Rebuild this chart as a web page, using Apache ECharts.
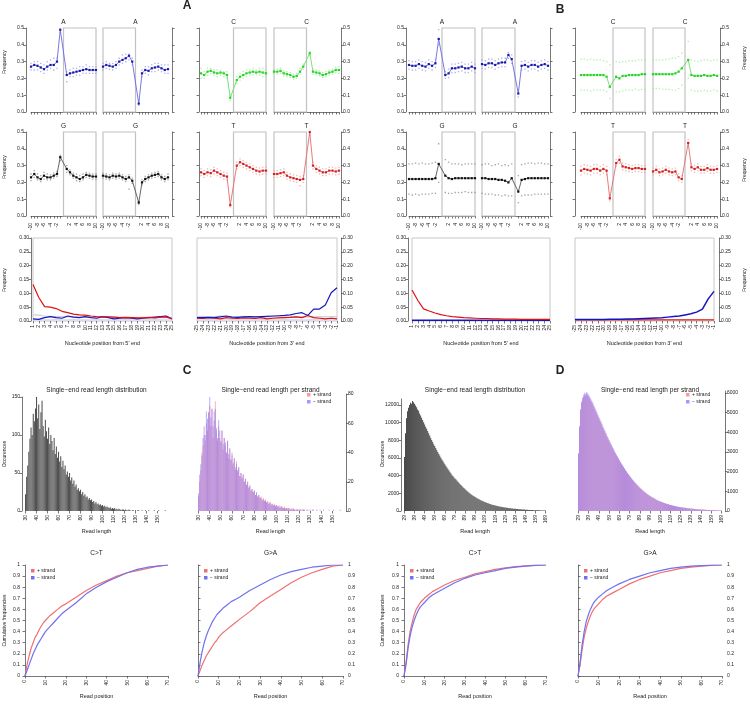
<!DOCTYPE html>
<html><head><meta charset="utf-8">
<script src="https://cdn.jsdelivr.net/npm/echarts/dist/echarts.min.js"></script>
<style>html,body{margin:0;padding:0;background:#fff}#c{width:750px;height:706px}</style>
</head><body><div id="c"></div><script>
// ---------------- DATA ----------------
const POS21 = ['-10','-9','-8','-7','-6','-5','-4','-3','-2','-1','0','1','2','3','4','5','6','7','8','9','10'];
const POS5 = ['1','2','3','4','5','6','7','8','9','10','11','12','13','14','15','16','17','18','19','20','21','22','23','24','25'];
const POS3 = ['-25','-24','-23','-22','-21','-20','-19','-18','-17','-16','-15','-14','-13','-12','-11','-10','-9','-8','-7','-6','-5','-4','-3','-2','-1'];

const aA_m5 = [0.27,0.28,0.275,0.265,0.255,0.27,0.28,0.28,0.30,0.49, 0.22,0.23,0.235,0.24,0.245,0.25,0.255,0.25,0.25,0.25];
const aA_u5 = [0.29,0.30,0.30,0.29,0.28,0.30,0.31,0.32,0.32,0.51, 0.24,0.25,0.26,0.26,0.27,0.27,0.28,0.27,0.27,0.27];
const aA_l5 = [0.25,0.25,0.25,0.24,0.23,0.25,0.26,0.25,0.26,0.47, 0.18,0.21,0.21,0.22,0.22,0.23,0.23,0.23,0.23,0.23];
const aA_m3 = [0.27,0.28,0.275,0.27,0.28,0.30,0.31,0.32,0.335,0.30, 0.05,0.23,0.25,0.245,0.26,0.265,0.27,0.26,0.25,0.255];
const aA_u3 = [0.29,0.30,0.29,0.29,0.30,0.32,0.34,0.345,0.345,0.32, 0.07,0.25,0.27,0.27,0.28,0.29,0.29,0.28,0.28,0.28];
const aA_l3 = [0.25,0.26,0.255,0.25,0.26,0.28,0.29,0.30,0.31,0.28, 0.04,0.21,0.23,0.22,0.24,0.24,0.25,0.24,0.23,0.23];

const aC_m5 = [0.23,0.22,0.24,0.245,0.235,0.23,0.235,0.23,0.22,0.085, 0.19,0.21,0.22,0.23,0.235,0.24,0.235,0.24,0.235,0.23];
const aC_u5 = [0.26,0.24,0.26,0.26,0.25,0.25,0.25,0.24,0.24,0.10, 0.21,0.23,0.24,0.25,0.25,0.26,0.25,0.26,0.26,0.25];
const aC_l5 = [0.20,0.20,0.22,0.23,0.22,0.21,0.22,0.21,0.20,0.07, 0.17,0.19,0.20,0.21,0.22,0.22,0.22,0.22,0.21,0.21];
const aC_m3 = [0.24,0.24,0.245,0.23,0.225,0.22,0.21,0.215,0.24,0.27, 0.35,0.24,0.235,0.23,0.22,0.225,0.235,0.24,0.25,0.25];
const aC_u3 = [0.25,0.255,0.26,0.245,0.24,0.235,0.225,0.23,0.26,0.285, 0.36,0.255,0.25,0.245,0.235,0.24,0.25,0.255,0.265,0.27];
const aC_l3 = [0.225,0.225,0.23,0.215,0.21,0.205,0.195,0.20,0.225,0.255, 0.335,0.225,0.22,0.215,0.205,0.21,0.22,0.225,0.235,0.23];

const aG_m5 = [0.23,0.25,0.23,0.22,0.24,0.23,0.23,0.24,0.25,0.35, 0.28,0.26,0.24,0.23,0.22,0.23,0.245,0.24,0.235,0.235];
const aG_u5 = [0.25,0.27,0.25,0.24,0.26,0.25,0.245,0.255,0.265,0.36, 0.30,0.275,0.255,0.25,0.24,0.25,0.26,0.255,0.25,0.25];
const aG_l5 = [0.21,0.23,0.215,0.205,0.22,0.215,0.215,0.225,0.235,0.33, 0.26,0.245,0.225,0.21,0.205,0.215,0.23,0.225,0.22,0.22];
const aG_m3 = [0.24,0.235,0.23,0.24,0.235,0.24,0.23,0.22,0.23,0.21, 0.08,0.20,0.22,0.23,0.24,0.245,0.25,0.23,0.22,0.23];
const aG_u3 = [0.255,0.25,0.245,0.255,0.25,0.255,0.245,0.235,0.245,0.225, 0.09,0.215,0.235,0.245,0.255,0.26,0.265,0.245,0.235,0.25];
const aG_l3 = [0.225,0.22,0.215,0.225,0.22,0.225,0.215,0.205,0.16,0.195, 0.07,0.185,0.205,0.215,0.225,0.23,0.235,0.215,0.205,0.215];

const aT_m5 = [0.26,0.25,0.26,0.255,0.27,0.26,0.25,0.24,0.235,0.065, 0.30,0.32,0.31,0.30,0.29,0.28,0.27,0.265,0.27,0.27];
const aT_u5 = [0.28,0.27,0.28,0.275,0.29,0.28,0.27,0.26,0.255,0.075, 0.32,0.34,0.33,0.32,0.31,0.30,0.29,0.285,0.29,0.29];
const aT_l5 = [0.24,0.23,0.24,0.235,0.25,0.24,0.23,0.22,0.215,0.055, 0.28,0.30,0.29,0.28,0.27,0.26,0.25,0.245,0.25,0.25];
const aT_m3 = [0.25,0.25,0.255,0.26,0.24,0.23,0.225,0.22,0.215,0.22, 0.50,0.30,0.28,0.27,0.26,0.26,0.27,0.27,0.265,0.27];
const aT_u3 = [0.27,0.27,0.275,0.28,0.26,0.25,0.245,0.24,0.235,0.24, 0.51,0.32,0.30,0.29,0.28,0.28,0.29,0.29,0.285,0.29];
const aT_l3 = [0.23,0.23,0.235,0.24,0.22,0.21,0.205,0.20,0.18,0.20, 0.48,0.28,0.26,0.25,0.24,0.24,0.25,0.25,0.245,0.25];

const bA_m5 = [0.28,0.275,0.275,0.285,0.275,0.27,0.285,0.275,0.29,0.435, 0.22,0.23,0.26,0.26,0.265,0.27,0.26,0.26,0.27,0.26];
const bA_u5 = [0.305,0.30,0.30,0.31,0.30,0.295,0.31,0.30,0.315,0.49, 0.24,0.255,0.285,0.285,0.29,0.295,0.285,0.285,0.295,0.285];
const bA_l5 = [0.255,0.25,0.25,0.26,0.25,0.245,0.26,0.25,0.265,0.40, 0.20,0.205,0.235,0.235,0.24,0.245,0.235,0.235,0.245,0.235];
const bA_m3 = [0.285,0.28,0.29,0.29,0.28,0.29,0.295,0.295,0.34,0.315, 0.11,0.275,0.28,0.27,0.28,0.28,0.27,0.28,0.285,0.275];
const bA_u3 = [0.31,0.305,0.315,0.315,0.305,0.315,0.32,0.32,0.355,0.34, 0.13,0.30,0.305,0.295,0.305,0.305,0.295,0.305,0.31,0.30];
const bA_l3 = [0.26,0.255,0.265,0.265,0.255,0.265,0.27,0.27,0.32,0.29, 0.09,0.25,0.255,0.245,0.255,0.255,0.245,0.255,0.26,0.25];

const bC_m5 = [0.22,0.22,0.22,0.22,0.22,0.22,0.22,0.22,0.21,0.15, 0.21,0.20,0.215,0.215,0.22,0.22,0.22,0.22,0.225,0.225];
const bC_u5 = [0.315,0.315,0.31,0.315,0.31,0.31,0.31,0.305,0.30,0.28, 0.30,0.295,0.30,0.30,0.305,0.305,0.305,0.31,0.31,0.31];
const bC_l5 = [0.13,0.13,0.13,0.125,0.13,0.13,0.13,0.13,0.12,0.08, 0.12,0.12,0.125,0.13,0.13,0.13,0.135,0.13,0.135,0.135];
const bC_m3 = [0.225,0.225,0.225,0.225,0.225,0.225,0.225,0.23,0.24,0.26, 0.31,0.22,0.215,0.215,0.215,0.22,0.215,0.215,0.22,0.215];
const bC_u3 = [0.31,0.31,0.31,0.31,0.315,0.315,0.32,0.32,0.33,0.35, 0.42,0.31,0.305,0.30,0.305,0.31,0.31,0.305,0.31,0.31];
const bC_l3 = [0.14,0.14,0.14,0.135,0.135,0.135,0.13,0.13,0.14,0.16, 0.20,0.13,0.125,0.125,0.125,0.13,0.125,0.125,0.13,0.125];

const bG_m5 = [0.22,0.22,0.22,0.22,0.22,0.22,0.22,0.22,0.225,0.31, 0.24,0.225,0.22,0.225,0.225,0.225,0.225,0.225,0.225,0.225];
const bG_u5 = [0.31,0.31,0.315,0.31,0.315,0.31,0.31,0.315,0.32,0.43, 0.335,0.32,0.31,0.31,0.31,0.305,0.31,0.31,0.31,0.31];
const bG_l5 = [0.13,0.125,0.13,0.125,0.13,0.13,0.13,0.135,0.135,0.20, 0.14,0.135,0.135,0.14,0.14,0.14,0.145,0.14,0.14,0.14];
const bG_m3 = [0.225,0.225,0.22,0.22,0.22,0.215,0.215,0.21,0.20,0.225, 0.145,0.215,0.22,0.225,0.225,0.225,0.225,0.225,0.225,0.225];
const bG_u3 = [0.305,0.31,0.31,0.30,0.305,0.31,0.30,0.305,0.30,0.31, 0.24,0.305,0.31,0.315,0.315,0.31,0.315,0.315,0.31,0.31];
const bG_l3 = [0.135,0.13,0.13,0.13,0.125,0.125,0.12,0.125,0.12,0.12, 0.08,0.12,0.125,0.125,0.125,0.13,0.13,0.13,0.13,0.13];

const bT_m5 = [0.27,0.28,0.275,0.27,0.28,0.28,0.27,0.28,0.27,0.105, 0.315,0.335,0.295,0.29,0.285,0.28,0.285,0.285,0.28,0.28];
const bT_u5 = [0.295,0.305,0.30,0.295,0.305,0.305,0.295,0.305,0.295,0.12, 0.335,0.355,0.315,0.31,0.305,0.30,0.305,0.305,0.30,0.30];
const bT_l5 = [0.245,0.255,0.25,0.245,0.255,0.255,0.245,0.255,0.245,0.09, 0.295,0.315,0.275,0.27,0.265,0.26,0.265,0.265,0.26,0.26];
const bT_m3 = [0.265,0.275,0.26,0.265,0.275,0.265,0.26,0.265,0.23,0.22, 0.435,0.29,0.28,0.29,0.275,0.275,0.285,0.275,0.275,0.28];
const bT_u3 = [0.285,0.295,0.28,0.285,0.295,0.285,0.28,0.285,0.25,0.24, 0.455,0.31,0.30,0.31,0.295,0.295,0.305,0.295,0.295,0.30];
const bT_l3 = [0.245,0.255,0.24,0.245,0.255,0.245,0.24,0.245,0.21,0.20, 0.415,0.27,0.26,0.27,0.255,0.255,0.265,0.255,0.255,0.26];

const a5_CT = [0.132,0.085,0.052,0.05,0.045,0.035,0.03,0.025,0.022,0.021,0.018,0.016,0.015,0.015,0.014,0.012,0.013,0.012,0.011,0.011,0.013,0.011,0.014,0.015,0.007];
const a5_GA = [0.008,0.006,0.012,0.016,0.012,0.01,0.018,0.014,0.012,0.016,0.012,0.01,0.016,0.012,0.008,0.01,0.012,0.01,0.008,0.01,0.012,0.014,0.016,0.018,0.008];
const a5_OT = [0.022,0.021,0.018,0.017,0.016,0.016,0.015,0.015,0.014,0.015,0.014,0.013,0.014,0.015,0.014,0.013,0.012,0.013,0.012,0.013,0.012,0.011,0.012,0.013,0.01];
const a5_OP = [0.004,0.005,0.004,0.004,0.005,0.004,0.004,0.005,0.004,0.004,0.004,0.005,0.004,0.004,0.004,0.004,0.005,0.004,0.004,0.004,0.004,0.005,0.004,0.004,0.004];
const a3_GA = [0.012,0.012,0.013,0.012,0.015,0.018,0.014,0.013,0.015,0.016,0.015,0.016,0.017,0.018,0.019,0.02,0.022,0.027,0.03,0.02,0.043,0.043,0.058,0.102,0.12];
const a3_CT = [0.01,0.009,0.012,0.01,0.008,0.012,0.01,0.009,0.011,0.01,0.009,0.012,0.008,0.01,0.011,0.012,0.013,0.015,0.012,0.02,0.012,0.01,0.008,0.01,0.008];
const a3_OT = [0.016,0.017,0.015,0.016,0.018,0.016,0.015,0.016,0.017,0.015,0.016,0.014,0.015,0.016,0.015,0.014,0.015,0.016,0.015,0.014,0.015,0.016,0.015,0.016,0.015];
const a3_OP = [0.004,0.004,0.005,0.004,0.004,0.004,0.005,0.004,0.004,0.004,0.004,0.005,0.004,0.004,0.004,0.005,0.004,0.004,0.004,0.004,0.005,0.004,0.004,0.004,0.004];
const b5_CT = [0.112,0.075,0.044,0.036,0.029,0.023,0.019,0.016,0.014,0.012,0.011,0.01,0.009,0.009,0.008,0.008,0.007,0.007,0.007,0.006,0.006,0.006,0.006,0.006,0.006];
const b5_GA = [0.003,0.003,0.003,0.003,0.003,0.003,0.003,0.003,0.003,0.003,0.003,0.003,0.003,0.003,0.003,0.003,0.003,0.003,0.003,0.003,0.003,0.003,0.003,0.003,0.003];
const b3_GA = [0.005,0.005,0.005,0.005,0.005,0.005,0.006,0.006,0.006,0.007,0.007,0.008,0.009,0.01,0.011,0.012,0.014,0.016,0.018,0.022,0.026,0.032,0.043,0.08,0.107];
const b3_CT = [0.004,0.004,0.004,0.004,0.004,0.004,0.004,0.004,0.004,0.004,0.004,0.004,0.004,0.004,0.004,0.004,0.004,0.004,0.004,0.004,0.004,0.004,0.004,0.004,0.004];

const C_LEN_START = 30, D_LEN_START = 29;
const C_YTICKS = [0,50,100,150], C_SYTICKS = [0,20,40,60,80];
const D_YTICKS = [0,2000,4000,6000,8000,10000,12000], D_SYTICKS = [0,1000,2000,3000,4000,5000,6000];
const C_total = [22,45,60,78,95,110,100,128,118,135, 150,122,140,108,130,145,112,98,120,105, 95,110,88,100,92,80,96,75,85,70,
 78,65,72,58,66,55,60,48,52,45, 50,40,44,36,40,32,35,28,30,26, 28,22,25,20,22,18,19,15,17,14, 15,12,13,10,12,9,10,8,9,7,
 8,6,7,5,6,5,4,5,3,4, 3,4,2,3,2,3,2,1,2,2, 1,2,1,1,2,1,0,1,1,0, 1,0,1,1,0,0,1,0,0,1, 0,0,1,0,0,0,0,1,0,0, 0,1,0,0,0,0,0,1,0,0];
const C_plus = [10,20,28,40,45,52,48,60,55,68, 72,58,70,50,62,75,55,48,58,50, 48,55,42,50,45,40,48,36,42,35,
 38,32,36,28,34,27,30,24,26,22, 25,20,22,18,20,16,18,14,15,13, 14,11,12,10,11,9,10,8,9,7, 8,6,7,5,6,5,5,4,5,4,
 4,3,4,3,3,2,2,3,2,2, 2,2,1,2,1,1,1,1,1,1, 1,1,0,1,1,0,0,1,0,0, 0,0,1,0,0,0,0,0,0,1, 0,0,0,0,0,0,0,1,0,0, 0,0,0,0,0,0,0,0,0,0];
const C_minus = [12,25,32,38,50,58,52,68,63,67, 78,64,70,58,68,70,57,50,62,55, 47,55,46,50,47,40,48,39,43,35,
 40,33,36,30,32,28,30,24,26,23, 25,20,22,18,20,16,17,14,15,13, 14,11,13,10,11,9,9,7,8,7, 7,6,6,5,6,4,5,4,4,3,
 4,3,3,2,3,3,2,2,1,2, 1,2,1,1,1,2,1,0,1,1, 0,1,1,0,1,1,0,0,1,0, 1,0,0,1,0,0,1,0,0,0, 0,0,1,0,0,0,0,0,0,0, 0,1,0,0,0,0,0,1,0,0];
const D_total = [6100,8800,10500,11300,11700,12000,12250,12150,12450,12300,12150,
 11950,11750,11500,11350,11050,10800,10550,10300,10050,9800, 9550,9300,9050,8800,8550,8300,8050,7800,7570,7350,
 7130,6900,6690,6480,6270,6070,5870,5680,5490,5300, 5120,4940,4770,4600,4430,4270,4110,3960,3810,3670,
 3600,3460,3320,3190,3060,2940,2820,2700,2590,2480, 2370,2270,2170,2080,1990,1900,1820,1740,1660,1590,
 1520,1450,1380,1320,1260,1200,1150,1100,1050,1000, 950,910,870,830,790,750,720,690,660,630,
 600,570,545,520,495,470,450,430,410,390, 370,355,340,325,310,295,280,268,255,243,
 232,221,210,200,190,181,172,164,156,148, 141,134,127,121,115,109,104,99,94,89, 85,80,76,72,68,65,61,58,55,52];
const D_plus = [2900,4250,5100,5480,5680,5800,5890,5850,5950,5880,5800,
 5710,5620,5500,5430,5290,5170,5050,4930,4810,4700, 4580,4460,4340,4220,4100,3990,3870,3760,3650,3540,
 3440,3330,3230,3130,3030,2930,2830,2740,2650,2560, 2470,2380,2300,2220,2140,2060,1990,1910,1840,1770,
 1700,1640,1570,1510,1450,1390,1330,1280,1230,1180, 1130,1080,1030,990,950,900,860,820,790,760,
 720,690,660,630,600,570,540,520,500,480, 470,450,430,410,390,370,350,340,320,310,
 290,280,270,250,240,230,220,210,200,190, 180,170,170,160,150,140,140,130,120,120,
 110,110,100,100,90,90,80,80,80,70, 70,70,60,60,60,50,50,50,50,40, 40,40,40,40,30,30,30,30,30,30];
const D_minus = [2950,4320,5180,5570,5770,5910,6010,5960,6050,5990,5910,
 5820,5720,5600,5520,5380,5260,5150,5030,4900,4780, 4670,4550,4430,4300,4180,4070,3950,3830,3720,3610,
 3500,3390,3290,3190,3080,2980,2880,2790,2700,2610, 2520,2430,2350,2260,2180,2100,2020,1950,1880,1810,
 1740,1670,1600,1540,1480,1420,1360,1310,1250,1200, 1150,1100,1050,1000,960,920,880,840,800,770,
 740,710,680,650,620,590,560,540,510,490, 460,440,420,400,380,370,350,340,320,310,
 300,280,270,260,250,230,220,210,200,190, 190,185,170,165,160,155,140,138,135,123,
 122,111,110,100,100,91,92,84,76,78, 71,64,67,61,55,59,54,49,44,49, 45,40,36,32,38,35,31,28,25,22];

const CUM_X = [0,1,2,3,4,5,6,7,8,9,10,12,14,16,18,20,25,30,35,40,45,50,55,60,65,70];
const C_CT_plus  = [0,0.10,0.18,0.25,0.30,0.35,0.38,0.42,0.45,0.48,0.50,0.54,0.57,0.60,0.63,0.65,0.71,0.77,0.82,0.86,0.90,0.93,0.95,0.97,0.99,1];
const C_CT_minus = [0,0.05,0.10,0.15,0.20,0.24,0.28,0.31,0.34,0.37,0.40,0.44,0.48,0.52,0.56,0.59,0.66,0.74,0.80,0.85,0.89,0.93,0.96,0.98,0.99,1];
const C_GA_plus  = [0,0.05,0.10,0.14,0.18,0.21,0.24,0.27,0.30,0.32,0.35,0.39,0.42,0.45,0.48,0.51,0.58,0.66,0.72,0.78,0.84,0.89,0.93,0.96,0.99,1];
const C_GA_minus = [0,0.12,0.22,0.30,0.36,0.41,0.45,0.49,0.52,0.55,0.57,0.61,0.64,0.67,0.69,0.71,0.77,0.82,0.87,0.91,0.94,0.96,0.98,0.99,1,1];
const D_CT_plus  = [0,0.12,0.28,0.40,0.48,0.55,0.60,0.63,0.66,0.68,0.70,0.73,0.76,0.78,0.80,0.82,0.86,0.89,0.92,0.94,0.96,0.975,0.985,0.993,0.998,1];
const D_CT_minus = [0,0.10,0.25,0.36,0.44,0.50,0.55,0.59,0.62,0.64,0.66,0.70,0.73,0.75,0.77,0.79,0.84,0.88,0.91,0.93,0.95,0.97,0.98,0.99,0.997,1];
const D_GA_plus  = [0,0.10,0.24,0.35,0.43,0.49,0.54,0.58,0.61,0.63,0.65,0.69,0.72,0.74,0.76,0.78,0.83,0.87,0.90,0.93,0.95,0.97,0.98,0.99,0.997,1];
const D_GA_minus = [0,0.12,0.28,0.40,0.49,0.55,0.60,0.64,0.67,0.69,0.71,0.74,0.77,0.79,0.81,0.83,0.87,0.90,0.93,0.95,0.97,0.98,0.99,0.995,0.999,1];

// ---------------- BUILD ----------------
const FONT = '"Liberation Sans", Arial, sans-serif';
const AX = '#555';
const grid=[], xAxis=[], yAxis=[], series=[], graphic=[];
const COL = {
  A:{pt:'#1a1aa8', line:'#6a6ae0', ci:'#9a9aee'},
  C:{pt:'#22d622', line:'#66e066', ci:'#99ea99'},
  G:{pt:'#111111', line:'#555555', ci:'#8a8a8a'},
  T:{pt:'#d42020', line:'#e86a6a', ci:'#f0a0a0'}
};
function G(left, top, width, height, border){
  grid.push({left, top, width, height, show: !!border, borderColor: border||'#ccc', borderWidth: 1, backgroundColor:'transparent', containLabel:false, outerBoundsMode:'none'});
  return grid.length-1;
}
function txt(x, y, s, o){
  o = o||{};
  graphic.push({type:'text', x, y, rotation: o.rot||0, silent:true, z:100,
    style:{text:s, font:(o.bold?'bold ':'')+(o.size||5)+'px '+FONT, fill:o.color||'#222',
      align:o.align||'center', verticalAlign:o.va||'middle', textAlign:o.align||'center', textVerticalAlign:o.va||'middle'}});
}
function gap(a){ return a.slice(0,10).concat([null], a.slice(10)); }
const lineSt = {color:AX, width:0.8};

function nuc(left, top, w, h, d, col, end, o){
  const g = G(left, top, w, h);
  xAxis.push({type:'category', gridIndex:g, data:POS21, boundaryGap:false, offset:o.xoff,
    axisLine:{show:true, lineStyle:lineSt},
    axisTick:{show:true, length:2.5, interval:(i,v)=>v!=='0', lineStyle:lineSt},
    axisLabel:{show:!!o.xlab, interval:(i,v)=>v!=='0' && (+v)%2===0, rotate:90, fontSize:5, color:'#222', margin:2, fontFamily:FONT},
    splitLine:{show:false}});
  yAxis.push({type:'value', gridIndex:g, min:0, max:0.5, interval:0.1, position:o.ypos, offset:o.yoff,
    show:o.yshow, axisLine:{show:true, lineStyle:lineSt}, axisTick:{show:true, length:2.5, lineStyle:lineSt},
    axisLabel:{show:!!o.ylab, fontSize:5, color:'#222', margin:2, fontFamily:FONT, formatter:v=>v.toFixed(1)},
    splitLine:{show:false}});
  const box = end===5 ? [[{xAxis:'0', yAxis:0},{xAxis:'10', yAxis:0.5}]] : [[{xAxis:'-10', yAxis:0},{xAxis:'0', yAxis:0.5}]];
  series.push({type:'line', xAxisIndex:g, yAxisIndex:g, data:gap(d[0]), connectNulls:true, symbol:'rect', symbolSize:2.2, showAllSymbol:true,
    itemStyle:{color:col.pt}, lineStyle:{color:col.line, width:0.9}, silent:true, z:4,
    markArea:{silent:true, itemStyle:{color:'rgba(0,0,0,0)', borderColor:'#c2c2c2', borderWidth:1.2}, data:box}});
  [d[1], d[2]].forEach(arr=>series.push({type:'scatter', xAxisIndex:g, yAxisIndex:g, data:gap(arr), symbol:'rect', symbolSize:1.3, itemStyle:{color:col.ci}, silent:true, z:3}));
  return left + w/2;
}
function pair(lefts, top, w, h, nt, d5, d3, o){
  const x1 = nuc(lefts[0], top, w[0], h, d5, COL[nt], 5, {xoff:5, xlab:o.xlab, ypos:'left', yoff:o.yoff[0], yshow:true, ylab:o.ylab[0]});
  const x2 = nuc(lefts[1], top, w[1], h, d3, COL[nt], 3, {xoff:5, xlab:o.xlab, ypos:'right', yoff:o.yoff[1], yshow:true, ylab:o.ylab[1]});
  txt(x1, top-6, nt, {size:6.5}); txt(x2, top-6, nt, {size:6.5});
}
const R1 = 28, R2 = 132, RH = 84;
pair([31,103],R1,[65,65],RH,'A',[aA_m5,aA_u5,aA_l5],[aA_m3,aA_u3,aA_l3],{xlab:false,yoff:[5,4],ylab:[true,false]});
pair([201,274],R1,[65,65],RH,'C',[aC_m5,aC_u5,aC_l5],[aC_m3,aC_u3,aC_l3],{xlab:false,yoff:[2,2],ylab:[false,true]});
pair([31,103],R2,[65,65],RH,'G',[aG_m5,aG_u5,aG_l5],[aG_m3,aG_u3,aG_l3],{xlab:true,yoff:[5,4],ylab:[true,false]});
pair([201,274],R2,[65,65],RH,'T',[aT_m5,aT_u5,aT_l5],[aT_m3,aT_u3,aT_l3],{xlab:true,yoff:[2,2],ylab:[false,true]});
pair([409,482],R1,[66,66],RH,'A',[bA_m5,bA_u5,bA_l5],[bA_m3,bA_u3,bA_l3],{xlab:false,yoff:[3,2],ylab:[true,false]});
pair([581,653],R1,[64,64],RH,'C',[bC_m5,bC_u5,bC_l5],[bC_m3,bC_u3,bC_l3],{xlab:false,yoff:[6,3],ylab:[false,true]});
pair([409,482],R2,[66,66],RH,'G',[bG_m5,bG_u5,bG_l5],[bG_m3,bG_u3,bG_l3],{xlab:true,yoff:[3,2],ylab:[true,false]});
pair([581,653],R2,[64,64],RH,'T',[bT_m5,bT_u5,bT_l5],[bT_m3,bT_u3,bT_l3],{xlab:true,yoff:[6,3],ylab:[false,true]});

function misinc(left, top, w, h, cats, lines, ypos, yoff, label){
  const g = G(left, top, w, h, '#c8c8c8');
  xAxis.push({type:'category', gridIndex:g, data:cats, boundaryGap:false, offset:2,
    axisLine:{show:false}, axisTick:{show:true, length:2.5, interval:0, lineStyle:lineSt},
    axisLabel:{show:true, interval:0, rotate:90, fontSize:5, color:'#222', margin:2, fontFamily:FONT}, splitLine:{show:false}});
  yAxis.push({type:'value', gridIndex:g, min:0, max:0.3, interval:0.05, position:ypos, offset:yoff,
    axisLine:{show:true, lineStyle:lineSt}, axisTick:{show:true, length:2.5, lineStyle:lineSt},
    axisLabel:{show:true, fontSize:5, color:'#222', margin:2, fontFamily:FONT, formatter:v=>v.toFixed(2)}, splitLine:{show:false}});
  lines.forEach(l=>series.push({type:'line', xAxisIndex:g, yAxisIndex:g, data:l[0], symbol:'none', lineStyle:{color:l[1], width:l[2]}, silent:true, z:l[3]||3}));
  txt(left+w/2, 343, label, {size:5.5});
}
const RT = 238, RTH = 83;
misinc(33,RT,139,RTH,POS5,[[a5_OP,'#d8d8f0',1.5,2],[a5_OT,'#cfcfcf',1.2,2],[a5_GA,'#1515c0',1.2,3],[a5_CT,'#e01010',1.2,4]],'left',2,"Nucleotide position from 5' end");
misinc(197,RT,140,RTH,POS3,[[a3_OP,'#d8d8f0',1.5,2],[a3_OT,'#cfcfcf',1.2,2],[a3_CT,'#e01010',1.2,3],[a3_GA,'#1515c0',1.2,4]],'right',4,"Nucleotide position from 3' end");
misinc(412,RT,138,RTH,POS5,[[b5_GA,'#1515c0',1.5,3],[b5_CT,'#e01010',1.2,4]],'left',4,"Nucleotide position from 5' end");
misinc(575,RT,139,RTH,POS3,[[b3_CT,'#e01010',1.2,3],[b3_GA,'#1515c0',1.5,4]],'right',5,"Nucleotide position from 3' end");

[62,167,280].forEach(y=>txt(5,y,'Frequency',{rot:Math.PI/2,size:5}));
[58,170,280].forEach(y=>txt(745,y,'Frequency',{rot:Math.PI/2,size:5}));

const Y0H = 511; // histogram baseline
function range(a,n){ const r=[]; for(let i=0;i<n;i++) r.push(String(a+i)); return r; }
function hist(left, top, w, start, sers, ymax, yticks, ypos, yoff, title, legend){
  const h = Y0H - top;
  const cats = range(start, sers[0][0].length);
  const g = G(left, top, w, h);
  xAxis.push({type:'category', gridIndex:g, data:cats, boundaryGap:true, offset:2,
    axisLine:{show:false}, axisTick:{show:true, length:2.5, alignWithLabel:true, interval:(i,v)=>(+v-start)%10===0, lineStyle:lineSt},
    axisLabel:{show:true, interval:(i,v)=>(+v-start)%10===0, rotate:90, fontSize:5, color:'#222', margin:2, fontFamily:FONT}, splitLine:{show:false}});
  yAxis.push({type:'value', gridIndex:g, min:0, max:ymax, position:ypos, offset:yoff,
    axisLine:{show:true, lineStyle:lineSt}, axisTick:{show:true, length:2.5, lineStyle:lineSt, customValues:yticks},
    axisLabel:{show:true, fontSize:5, color:'#222', margin:2, fontFamily:FONT, customValues:yticks, formatter:v=>String(v)}, splitLine:{show:false}});
  sers.forEach((s,i)=>series.push({type:'bar', name:s[2], xAxisIndex:g, yAxisIndex:g, data:s[0], barCategoryGap:'12%', barGap:'-100%',
    itemStyle:{color:s[1]}, silent:true, z:2+i}));
  txt(left+w/2, 390, title, {size:6.5});
  txt(left+w/2, Y0H+20, 'Read length', {size:5.5});
  if(legend){
    legend.forEach((l,i)=>{
      graphic.push({type:'rect', silent:true, shape:{x:left+w-36, y:393+i*7, width:3.5, height:3.5}, style:{fill:l[1]}});
      txt(left+w-30, 395+i*7, l[0], {size:5, align:'left'});
    });
  }
}
hist(25,397,143,C_LEN_START,[[C_total,'#4a4a4a','total']],150,C_YTICKS,'left',3,'Single\u2212end read length distribution');
hist(198,394,145,C_LEN_START,[[C_plus,'rgba(255,110,110,0.55)','+ strand'],[C_minus,'rgba(120,110,255,0.55)','\u2212 strand']],80,C_SYTICKS,'right',3,'Single\u2212end read length per strand',[['+ strand','rgba(255,110,110,0.7)'],['\u2212 strand','rgba(120,110,255,0.7)']]);
hist(404,399,142,D_LEN_START,[[D_total,'#4a4a4a','total']],12680,D_YTICKS,'left',3,'Single\u2212end read length distribution');
hist(578,391,144,D_LEN_START,[[D_plus,'rgba(255,110,110,0.55)','+ strand'],[D_minus,'rgba(120,110,255,0.55)','\u2212 strand']],6100,D_SYTICKS,'right',3,'Single\u2212end read length per strand',[['+ strand','rgba(255,110,110,0.7)'],['\u2212 strand','rgba(120,110,255,0.7)']]);

function cum(left, top, w, h, plus, minus, ypos, yoff, title){
  const g = G(left, top, w, h);
  xAxis.push({type:'value', gridIndex:g, min:0, max:70, interval:10, offset:2,
    axisLine:{show:true, lineStyle:lineSt}, axisTick:{show:true, length:2.5, lineStyle:lineSt},
    axisLabel:{show:true, rotate:90, fontSize:5, color:'#222', margin:2, fontFamily:FONT}, splitLine:{show:false}});
  yAxis.push({type:'value', gridIndex:g, min:0, max:1, interval:0.1, position:ypos, offset:yoff,
    axisLine:{show:true, lineStyle:lineSt}, axisTick:{show:true, length:2.5, lineStyle:lineSt},
    axisLabel:{show:true, fontSize:5, color:'#222', margin:2, fontFamily:FONT, formatter:v=>(v===0||v===1)?String(v):v.toFixed(1)}, splitLine:{show:false}});
  series.push({type:'line', name:'+ strand', xAxisIndex:g, yAxisIndex:g, data:CUM_X.map((x,i)=>[x,plus[i]]), symbol:'none', lineStyle:{color:'#f07070', width:1.2}, silent:true});
  series.push({type:'line', name:'\u2212 strand', xAxisIndex:g, yAxisIndex:g, data:CUM_X.map((x,i)=>[x,minus[i]]), symbol:'none', lineStyle:{color:'#7070f0', width:1.2}, silent:true});
  txt(left+w/2, top-12, title, {size:6.5});
  txt(left+w/2, top+h+20, 'Read position', {size:5.5});
  [['+ strand','#f07070'],['\u2212 strand','#7070f0']].forEach((l,i)=>{
    graphic.push({type:'rect', silent:true, shape:{x:left+6, y:top+4+i*7, width:3.5, height:3.5}, style:{fill:l[1]}});
    txt(left+12, top+6+i*7, l[0], {size:5, align:'left'});
  });
}
const CT = 565, CH = 111;
cum(25,CT,143,CH,C_CT_plus,C_CT_minus,'left',3,'C>T');
cum(198,CT,145,CH,C_GA_plus,C_GA_minus,'right',3,'G>A');
cum(404,CT,142,CH,D_CT_plus,D_CT_minus,'left',3,'C>T');
cum(578,CT,144,CH,D_GA_plus,D_GA_minus,'right',3,'G>A');
txt(5,454,'Occurences',{rot:Math.PI/2});
txt(383,454,'Occurences',{rot:Math.PI/2});
txt(5,CT+CH/2,'Cumulative frequencies',{rot:Math.PI/2});
txt(383,CT+CH/2,'Cumulative frequencies',{rot:Math.PI/2});

txt(187,6,'A',{bold:true,size:12}); txt(560,10,'B',{bold:true,size:12});
txt(187,371,'C',{bold:true,size:12}); txt(560,371,'D',{bold:true,size:12});

const chart = echarts.init(document.getElementById('c'), null, {renderer:'canvas'});
chart.setOption({animation:false, backgroundColor:'#fff', textStyle:{fontFamily:FONT}, grid, xAxis, yAxis, series, graphic});
</script></body></html>
